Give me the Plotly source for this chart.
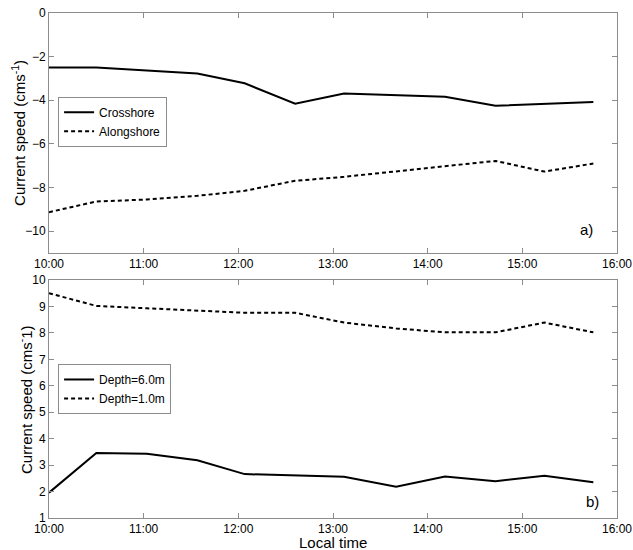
import plotly.graph_objects as go
from plotly.subplots import make_subplots

times = ["10:00", "10:30", "11:02", "11:34", "12:04", "12:36",
         "13:07", "13:40", "14:11", "14:43", "15:14", "15:45"]
crosshore = [-2.50, -2.50, -2.63, -2.77, -3.22, -4.16,
             -3.69, -3.77, -3.84, -4.25, -4.17, -4.08]
alongshore = [-9.13, -8.64, -8.55, -8.38, -8.15, -7.69,
              -7.51, -7.25, -7.00, -6.78, -7.27, -6.90]
depth6 = [1.96, 3.46, 3.43, 3.18, 2.66, 2.62,
          2.56, 2.18, 2.57, 2.39, 2.60, 2.35]
depth1 = [9.50, 9.02, 8.93, 8.83, 8.76, 8.76,
          8.39, 8.17, 8.02, 8.02, 8.39, 8.02]

x = ["2000-01-01 " + t for t in times]

FONT = "Arial, Liberation Sans"
fig = make_subplots(rows=2, cols=1, shared_xaxes=False, vertical_spacing=0.05)

dash = "4px,3px"
fig.add_trace(go.Scatter(x=x, y=crosshore, mode="lines", name="Crosshore",
                         line=dict(color="black", width=2), legend="legend"), row=1, col=1)
fig.add_trace(go.Scatter(x=x, y=alongshore, mode="lines", name="Alongshore",
                         line=dict(color="black", width=2, dash=dash), legend="legend"), row=1, col=1)
fig.add_trace(go.Scatter(x=x, y=depth6, mode="lines", name="Depth=6.0m",
                         line=dict(color="black", width=2), legend="legend2"), row=2, col=1)
fig.add_trace(go.Scatter(x=x, y=depth1, mode="lines", name="Depth=1.0m",
                         line=dict(color="black", width=2, dash=dash), legend="legend2"), row=2, col=1)

axis_common = dict(showline=True, linecolor="#8c8c8c", linewidth=1, mirror="ticks",
                   ticks="inside", ticklen=5, tickcolor="#8c8c8c", showgrid=False,
                   zeroline=False, automargin=False, ticklabeloverflow="allow",
                   tickfont=dict(family=FONT, size=12, color="black"))

xrange = ["2000-01-01 10:00", "2000-01-01 16:00"]
fig.update_xaxes(**axis_common, range=xrange, tickformat="%H:%M", dtick=3600000,
                 tick0="2000-01-01 10:00")
fig.update_yaxes(**axis_common)
fig.update_yaxes(range=[-11, 0], dtick=2, tick0=0, row=1, col=1)
fig.update_yaxes(range=[1, 10], dtick=1, tick0=0, row=2, col=1)

tfont = dict(family=FONT, size=15, color="black")
fig.update_layout(
    width=633, height=550,
    margin=dict(l=49, r=16, t=13, b=32),
    plot_bgcolor="white", paper_bgcolor="white",
    font=dict(family=FONT, size=12, color="black"),
    xaxis=dict(domain=[0, 1]), xaxis2=dict(domain=[0, 1]),
    yaxis=dict(domain=[0.5248, 1.0]), yaxis2=dict(domain=[0.0, 0.4713]),
    legend=dict(x=0.016, y=0.834, xanchor="left", yanchor="top",
                bordercolor="#8c8c8c", borderwidth=1, bgcolor="white",
                font=dict(size=12), tracegroupgap=0, itemwidth=30),
    legend2=dict(x=0.016, y=0.305, xanchor="left", yanchor="top",
                 bordercolor="#8c8c8c", borderwidth=1, bgcolor="white",
                 font=dict(size=12), tracegroupgap=0, itemwidth=30),
    annotations=[
        dict(text="a)", x=0.962, y=0.55, xref="paper", yref="paper", showarrow=False,
             xanchor="right", yanchor="bottom", font=tfont),
        dict(text="b)", x=0.972, y=0.012, xref="paper", yref="paper", showarrow=False,
             xanchor="right", yanchor="bottom", font=tfont),
        dict(text="Current speed (cms<sup>-1</sup>)", x=-0.055, y=0.762, xref="paper", yref="paper",
             showarrow=False, textangle=-90, xanchor="center", yanchor="middle", font=tfont),
        dict(text="Current speed (cms<sup>-</sup>1)", x=-0.042, y=0.234, xref="paper", yref="paper",
             showarrow=False, textangle=-90, xanchor="center", yanchor="middle", font=tfont),
        dict(text="Local time", x=0.5, y=-0.0495, xref="paper", yref="paper",
             showarrow=False, xanchor="center", yanchor="middle", font=tfont),
    ],
)

fig.write_html("out.html", config={"displayModeBar": False},
               post_script="document.body.style.margin='0px';")
